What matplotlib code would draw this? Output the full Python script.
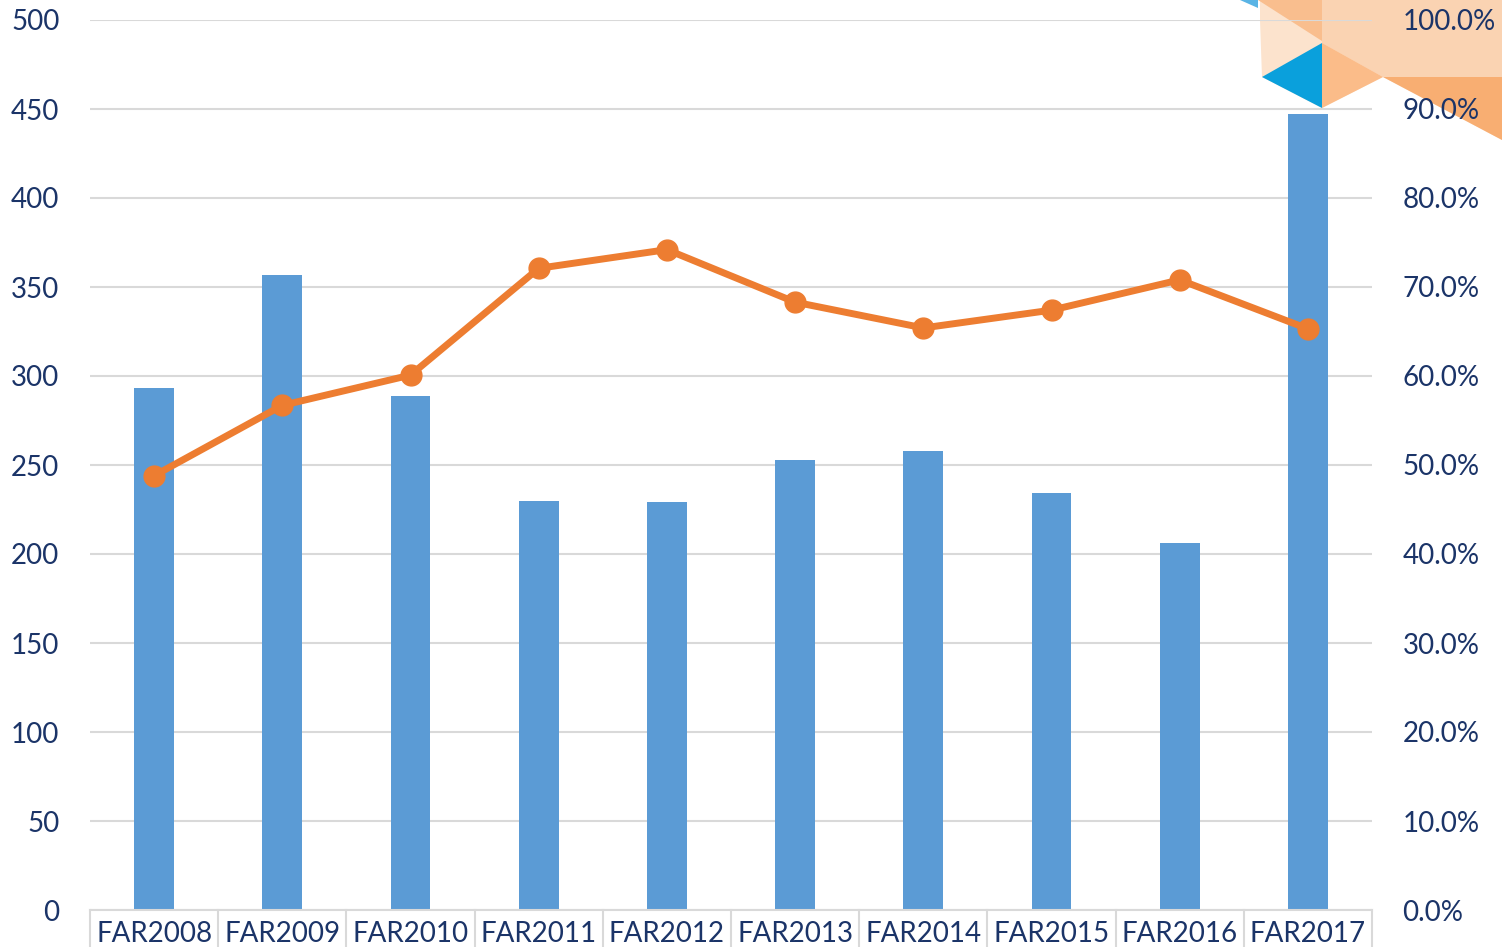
import matplotlib
matplotlib.use("Agg")
import matplotlib.pyplot as plt
from matplotlib.patches import Polygon
from matplotlib.ticker import FuncFormatter, MultipleLocator

# Data
categories = ["FAR2008", "FAR2009", "FAR2010", "FAR2011", "FAR2012",
              "FAR2013", "FAR2014", "FAR2015", "FAR2016", "FAR2017"]
counts = [293, 357, 289, 230, 229, 253, 258, 234, 206, 447]
rates = [48.8, 56.7, 60.1, 72.1, 74.2, 68.3, 65.4, 67.4, 70.8, 65.3]

COLOR_BAR = "#5B9BD5"
COLOR_LINE = "#ED7D31"
COLOR_TEXT = "#1B3468"
COLOR_GRID = "#D9D9D9"

W, H = 1502, 947
plt.rcParams['font.family'] = ['Lato', 'DejaVu Sans']
plt.rcParams['font.size'] = 20

fig = plt.figure(figsize=(W / 100, H / 100), dpi=100)
fig.patch.set_facecolor("white")


def px(points):
    return [(x / W, 1 - y / H) for x, y in points]


# Decorative corner graphic (top right)
deco = [
    ([(1260, 0), (1502, 0), (1502, 140), (1383, 77), (1322, 108), (1262, 77), (1260, 20)], "#FCE3CD"),
    ([(1322, 0), (1502, 0), (1502, 77), (1383, 77), (1322, 43)], "#FAD3B2"),
    ([(1258, 0), (1322, 0), (1322, 41)], "#F9BE8E"),
    ([(1322, 43), (1383, 77), (1322, 108)], "#FBBC89"),
    ([(1383, 77), (1502, 77), (1502, 140)], "#F8AE72"),
    ([(1262, 77), (1322, 43), (1322, 108)], "#0AA0DC"),
    ([(1240, 0), (1258, 0), (1258, 8)], "#5AB4E5"),
]
for pts, col in deco:
    fig.add_artist(Polygon(px(pts), closed=True, facecolor=col, edgecolor="none",
                           transform=fig.transFigure, zorder=-5))

ax = fig.add_axes([90 / W, 1 - 910 / H, (1372 - 90) / W, (910 - 20) / H])
ax.set_facecolor("none")
x = list(range(len(categories)))

ax.bar(x, counts, width=0.31, color=COLOR_BAR, zorder=2)
ax.set_ylim(0, 500)
ax.set_xlim(-0.5, len(categories) - 0.5)
ax.yaxis.set_major_locator(MultipleLocator(50))
ax.grid(axis="y", color=COLOR_GRID, linewidth=1.5, zorder=0)
ax.set_axisbelow(True)

for s in ["top", "left", "right"]:
    ax.spines[s].set_visible(False)
ax.spines["bottom"].set_color(COLOR_GRID)
ax.spines["bottom"].set_linewidth(1.5)

ax.set_xticks(x)
ax.set_xticklabels(categories, color=COLOR_TEXT)
ax.tick_params(axis="x", length=0, pad=8)
ax.tick_params(axis="y", length=0, pad=22, colors=COLOR_TEXT)

# table-like cell borders under the axis
for b in range(len(categories) + 1):
    ax.plot([b - 0.5, b - 0.5], [0, -0.05], transform=ax.get_xaxis_transform(),
            color=COLOR_GRID, linewidth=1.5, clip_on=False)

ax2 = ax.twinx()
ax2.set_facecolor("none")
ax2.plot(x, rates, color=COLOR_LINE, linewidth=5, marker="o", markersize=15, zorder=3)
ax2.set_ylim(0, 100)
ax2.yaxis.set_major_locator(MultipleLocator(10))
ax2.yaxis.set_major_formatter(FuncFormatter(lambda v, p: f"{v:.1f}%"))
ax2.tick_params(axis="y", length=0, pad=22, colors=COLOR_TEXT)
for s in ax2.spines.values():
    s.set_visible(False)

fig.savefig("out.png", dpi=100)
